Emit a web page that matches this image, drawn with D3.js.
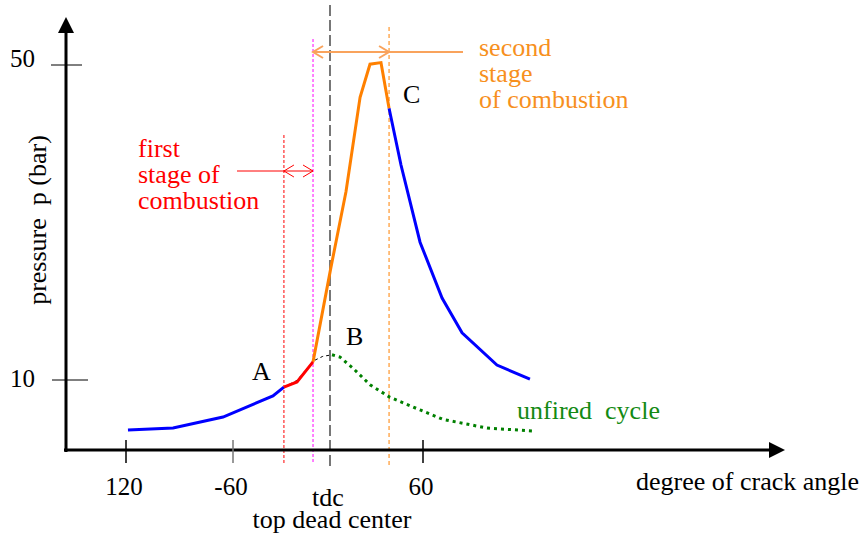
<!DOCTYPE html>
<html><head><meta charset="utf-8">
<script src="https://cdn.jsdelivr.net/npm/d3@7"></script>
<style>
html,body{margin:0;padding:0;background:#fff;}
svg text{font-family:"Liberation Serif","Times New Roman",serif;}
</style></head>
<body><svg id="c" width="860" height="535"></svg>
<script>
// ---- data ----
const xTickValues = [-120, -60, 60];
const xTickLabels = ["120", "-60", "60"];
const yTickValues = [50, 10];
const yTickLabels = ["50", "10"];

// compression (before ignition) [angle, pressure]
const compressionAngles = [-118.9, -93.6, -65.6, -35.3, -28.5];
const compressionPress  = [3.65, 3.9, 5.3, 7.97, 9.1];
// first stage of combustion
const firstStageAngles = [-28.5, -20.4, -10.5];
const firstStagePress  = [9.1, 9.75, 12.3];
// second stage of combustion
const secondStageAngles = [-10.5, 0.6, 10.3, 19.4, 25.8, 32.9, 38.1];
const secondStagePress  = [12.3, 24.3, 33.9, 45.9, 50.1, 50.3, 44.5];
// expansion
const expansionAngles = [38.1, 45.8, 58.1, 72.3, 85.2, 107.7, 129];
const expansionPress  = [44.5, 37.3, 27.5, 20.4, 16.0, 11.9, 10.1];
// unfired cycle (hidden part + visible part)
const unfiredHiddenAngles = [-28.5, -20.4, -10.5, -4.5, 1.3];
const unfiredHiddenPress  = [9.1, 9.95, 12.4, 13.0, 13.2];
const unfiredAngles = [1.3, 6.5, 14.8, 25.8, 38.7, 58.1, 72.9, 101.3, 132.3];
const unfiredPress  = [13.2, 12.9, 11.5, 9.4, 7.8, 6.2, 5.0, 3.9, 3.5];
// reference angles
const ignitionAngle = -28.5;   // A
const stage2Angle = -10.5;
const tdcAngle = 0;
const peakEndAngle = 38.1;     // C

// ---- layout ----
const svg = d3.select("#c");
const x = d3.scaleLinear().domain([-120, -60, 0, 60]).range([126, 233, 330, 423]);
const y = d3.scaleLinear().domain([10, 50]).range([380, 65]);
const axisX0 = 66, axisY0 = 450;
const FONT = 26, NFONT = 25;

const zip = (a, b) => a.map((v, i) => [v, b[i]]);
const line = d3.line().x(d => x(d[0])).y(d => y(d[1]));

// vertical reference lines
function vline(a, y1, y2, color, dash, w) {
  svg.append("line").attr("x1", x(a)).attr("x2", x(a)).attr("y1", y1).attr("y2", y2)
    .attr("stroke", color).attr("stroke-width", w).attr("stroke-dasharray", dash);
}
vline(ignitionAngle, 135, 465, "#ff0000", "3,2", 1);
vline(stage2Angle, 39, 462, "#ff00ff", "3,2", 1);
vline(tdcAngle, 5, 470, "#555555", "11,4", 1.6);
vline(peakEndAngle, 27, 465, "#ff8000", "4,3", 1);

// axes
svg.append("line").attr("x1", axisX0).attr("x2", axisX0).attr("y1", 30).attr("y2", 452)
  .attr("stroke", "#000").attr("stroke-width", 3);
svg.append("path").attr("d", `M${axisX0},17 L${axisX0-8},33 L${axisX0+8},33 Z`).attr("fill", "#000");
svg.append("line").attr("x1", 64).attr("x2", 772).attr("y1", axisY0).attr("y2", axisY0)
  .attr("stroke", "#000").attr("stroke-width", 3);
svg.append("path").attr("d", `M785,${axisY0} L769,${axisY0-8} L769,${axisY0+8} Z`).attr("fill", "#000");

// y ticks
const yTickX = [[51, 82], [52, 88]];
const yLabelDy = [2, 7];
yTickValues.forEach((v, i) => {
  svg.append("line").attr("x1", yTickX[i][0]).attr("x2", yTickX[i][1]).attr("y1", y(v)).attr("y2", y(v))
    .attr("stroke", "#000").attr("stroke-width", 1);
  svg.append("text").attr("x", 35).attr("y", y(v) + yLabelDy[i]).attr("text-anchor", "end")
    .attr("font-size", NFONT).text(yTickLabels[i]);
});

// x ticks
const xTickColors = ["#000", "#777", "#000"];
xTickValues.forEach((v, i) => {
  svg.append("line").attr("x1", x(v)).attr("x2", x(v)).attr("y1", 440).attr("y2", 463)
    .attr("stroke", xTickColors[i]).attr("stroke-width", 1.5);
  svg.append("text").attr("x", x(v) - 2).attr("y", 495).attr("text-anchor", "middle")
    .attr("font-size", NFONT).text(xTickLabels[i]);
});
svg.append("text").attr("x", x(tdcAngle) - 2).attr("y", 506).attr("text-anchor", "middle")
  .attr("font-size", FONT).text("tdc");
svg.append("text").attr("x", x(tdcAngle) + 2).attr("y", 528).attr("text-anchor", "middle")
  .attr("font-size", FONT).text("top dead center");
svg.append("text").attr("x", 636).attr("y", 490).attr("font-size", FONT).text("degree of crack angle");
svg.append("text").attr("transform", "translate(46,220) rotate(-90)").attr("text-anchor", "middle")
  .attr("font-size", FONT).style("white-space", "pre").text("pressure  p (bar)");

// curves
svg.append("path").attr("d", line(zip(unfiredHiddenAngles, unfiredHiddenPress)))
  .attr("fill", "none").attr("stroke", "#000").attr("stroke-width", 1).attr("stroke-dasharray", "3,3");
svg.append("path").attr("d", line(zip(unfiredAngles, unfiredPress)))
  .attr("fill", "none").attr("stroke", "#008000").attr("stroke-width", 3).attr("stroke-dasharray", "3,4");
svg.append("path").attr("d", line(zip(compressionAngles, compressionPress)))
  .attr("fill", "none").attr("stroke", "#0000ff").attr("stroke-width", 3);
svg.append("path").attr("d", line(zip(expansionAngles, expansionPress)))
  .attr("fill", "none").attr("stroke", "#0000ff").attr("stroke-width", 3);
svg.append("path").attr("d", line(zip(secondStageAngles, secondStagePress)))
  .attr("fill", "none").attr("stroke", "#ff8000").attr("stroke-width", 3);
svg.append("path").attr("d", line(zip(firstStageAngles, firstStagePress)))
  .attr("fill", "none").attr("stroke", "#ff0000").attr("stroke-width", 3);

// dimension arrows
function dimArrow(a1, a2, yy, lx1, lx2, color, w) {
  const x1 = x(a1), x2 = x(a2);
  svg.append("line").attr("x1", lx1).attr("x2", lx2).attr("y1", yy).attr("y2", yy)
    .attr("stroke", color).attr("stroke-width", w);
  svg.append("path").attr("d", `M${x1+10},${yy-6} L${x1},${yy} L${x1+10},${yy+6}`)
    .attr("fill", "none").attr("stroke", color).attr("stroke-width", w);
  svg.append("path").attr("d", `M${x2-10},${yy-6} L${x2},${yy} L${x2-10},${yy+6}`)
    .attr("fill", "none").attr("stroke", color).attr("stroke-width", w);
}
dimArrow(ignitionAngle, stage2Angle, 171, 237, x(stage2Angle), "#ff0000", 1);
dimArrow(stage2Angle, peakEndAngle, 52, x(stage2Angle), 463, "#f9a35c", 2);

// annotations
const first = ["first", "stage of", "combustion"];
first.forEach((t, i) => svg.append("text").attr("x", 138).attr("y", 157 + i * 26)
  .attr("font-size", FONT).attr("fill", "#ff0000").text(t));
const second = ["second", "stage", "of combustion"];
second.forEach((t, i) => svg.append("text").attr("x", 479).attr("y", 56 + i * 26)
  .attr("font-size", FONT).attr("fill", "#f7901e").text(t));
svg.append("text").attr("x", 252).attr("y", 380).attr("font-size", FONT).text("A");
svg.append("text").attr("x", 346).attr("y", 345).attr("font-size", FONT).text("B");
svg.append("text").attr("x", 403).attr("y", 103).attr("font-size", FONT).text("C");
svg.append("text").attr("x", 517).attr("y", 419).attr("font-size", FONT).attr("fill", "#138a13")
  .style("white-space", "pre").text("unfired  cycle");
</script></body></html>
